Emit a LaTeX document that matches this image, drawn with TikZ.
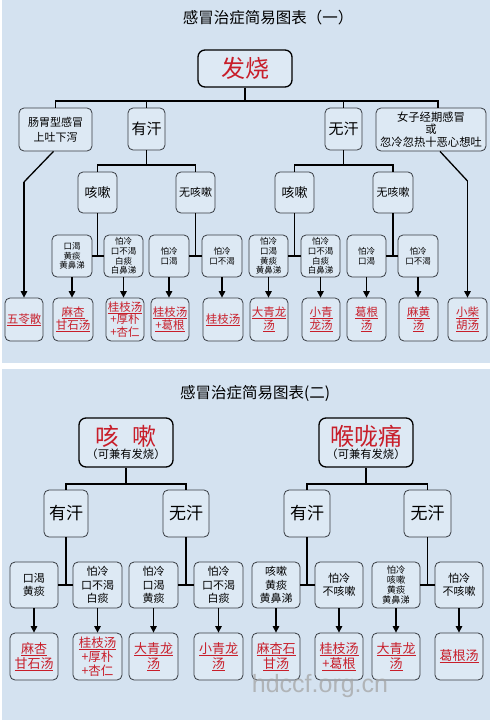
\documentclass[tikz,border=0pt]{standalone}
\usepackage{fontspec}
\setmainfont{Noto Sans CJK SC}
\newfontfamily\wmfont{Liberation Sans}
\usetikzlibrary{arrows.meta,calc}
\definecolor{bg}{RGB}{212,226,240}
\definecolor{boxfill}{RGB}{221,233,244}
\definecolor{boxline}{RGB}{55,60,66}
\definecolor{redtxt}{RGB}{200,30,42}
\definecolor{wmgray}{RGB}{165,165,165}
\newcommand\rul[1]{\setbox0\hbox{#1}\leavevmode\rlap{\raisebox{-2.4pt}{\color{redtxt}\rule{\wd0}{1pt}}}\box0}
\begin{document}
\begin{tikzpicture}[x=1pt,y=-1pt,
 box/.style={draw=boxline, fill=boxfill, rounded corners=5pt, line width=0.8pt, inner sep=0pt, align=center, text=black},
 bigbox/.style={box, draw=black, line width=1.3pt, rounded corners=7pt},
 res/.style={box, text=redtxt},
 wh/.style 2 args={minimum width=#1pt, minimum height=#2pt},
 fs/.style 2 args={font=\fontsize{#1}{#2}\selectfont},
 link/.style={line width=1.3pt, black},
 arr/.style={link, -{Triangle[length=6.5pt,width=6.5pt]}},
 ttl/.style={inner sep=0pt, text=black}
]
\useasboundingbox (0,0) rectangle (500,720);
\fill[white] (0,0) rectangle (500,720);
\fill[bg] (2,0) rectangle (490,363);
\fill[bg] (2,369) rectangle (490,720);

% ---------- Panel 1 ----------
\node[ttl, fs={15.5}{18}] (t1) at (268,18) {感冒治症简易图表（一）};
\node[bigbox, wh={94}{37}, fs={24}{28}, text=redtxt] (fs) at (245,68.5) {发烧};

\node[box, wh={73}{43}, fs={11}{15}] (cw) at (55.5,129.5) {肠胃型感冒\\上吐下泻};
\node[box, wh={37}{42}, fs={15}{18}] (yh1) at (146.5,129) {有汗};
\node[box, wh={37}{42}, fs={15}{18}] (wh1) at (343.5,129) {无汗};
\node[box, wh={110}{43}, fs={11.3}{12.5}] (nz) at (431,129.5) {女子经期感冒\\或\\忽冷忽热十恶心想吐};

\node[box, wh={39}{41}, fs={13}{15}] (ks1) at (97.5,192.5) {咳嗽};
\node[box, wh={39}{41}, fs={11}{13}] (wk1) at (195.5,192.5) {无咳嗽};
\node[box, wh={39}{41}, fs={13}{15}] (ks2) at (294.5,192.5) {咳嗽};
\node[box, wh={40}{41}, fs={11}{13}] (wk2) at (393,192.5) {无咳嗽};

\node[box, wh={40}{42}, fs={8.5}{9.8}] (s1) at (72,256) {口渴\\黄痰\\黄鼻涕};
\node[box, wh={39}{42}, fs={8.5}{9.8}] (s2) at (123.5,256) {怕冷\\口不渴\\白痰\\白鼻涕};
\node[box, wh={40}{42}, fs={8.5}{9.8}] (s3) at (169,256) {怕冷\\口渴};
\node[box, wh={40}{42}, fs={8.5}{9.8}] (s4) at (222,256) {怕冷\\口不渴};
\node[box, wh={39}{42}, fs={8.5}{9.8}] (s5) at (268.5,256) {怕冷\\口渴\\黄痰\\黄鼻涕};
\node[box, wh={39}{42}, fs={8.5}{9.8}] (s6) at (320.5,256) {怕冷\\口不渴\\白痰\\白鼻涕};
\node[box, wh={39}{42}, fs={8.5}{9.8}] (s7) at (366.5,256) {怕冷\\口渴};
\node[box, wh={40}{42}, fs={8.5}{9.8}] (s8) at (418,256) {怕冷\\口不渴};

\node[res, wh={38}{43}, fs={11.5}{13}] (r1) at (24,319.5) {\rul{五苓散}};
\node[res, wh={40}{43}, fs={11.5}{13}] (r2) at (73,319.5) {\rul{麻杏}\\\rul{甘石汤}};
\node[res, wh={38}{43}, fs={11.5}{12.6}] (r3) at (125,319.5) {\rul{桂枝汤}\\+厚朴\\+杏仁};
\node[res, wh={38}{43}, fs={11.5}{13}] (r4) at (170,319.5) {\rul{桂枝汤}\\\rul{+葛根}};
\node[res, wh={40}{43}, fs={11.5}{13}] (r5) at (223,319.5) {\rul{桂枝汤}};
\node[res, wh={38}{43}, fs={11.5}{13}] (r6) at (269,319.5) {\rul{大青龙}\\\rul{汤}};
\node[res, wh={38}{43}, fs={11.5}{13}] (r7) at (321,319.5) {\rul{小青}\\\rul{龙汤}};
\node[res, wh={39}{43}, fs={11.5}{13}] (r8) at (366.5,319.5) {\rul{葛根}\\\rul{汤}};
\node[res, wh={39}{43}, fs={11.5}{13}] (r9) at (418.5,319.5) {\rul{麻黄}\\\rul{汤}};
\node[res, wh={39}{43}, fs={11.5}{13}] (r10) at (467.5,319.5) {\rul{小柴}\\\rul{胡汤}};

\coordinate (bar1) at (0,101);
\coordinate (nzin) at (438,101);
\coordinate (bendL) at (24,182);
\coordinate (bendR) at (467.5,181);
\coordinate (bar2) at (0,165);

\draw[link] (fs.south) -- (fs.south |- bar1);
\draw[link] (cw.north) |- (nzin) -- (nzin |- nz.north);
\draw[link] (yh1.north) -- (yh1.north |- bar1);
\draw[link] (wh1.north) -- (wh1.north |- bar1);

\draw[link] (yh1.south) -- (yh1.south |- bar2);
\draw[link] (ks1.north) |- (wk1.north |- bar2) -- (wk1.north);
\draw[link] (wh1.south) -- (wh1.south |- bar2);
\draw[link] (ks2.north) |- (wk2.north |- bar2) -- (wk2.north);

\draw[link] (ks1.south) -- (ks1.south |- s1.east);
\draw[link] (s1.east) -- (s2.west);
\draw[link] (wk1.south) -- (wk1.south |- s3.east);
\draw[link] (s3.east) -- (s4.west);
\draw[link] (ks2.south) -- (ks2.south |- s5.east);
\draw[link] (s5.east) -- (s6.west);
\draw[link] (wk2.south) -- (wk2.south |- s7.east);
\draw[link] (s7.east) -- (s8.west);

\foreach \a/\b in {s1/r2,s2/r3,s3/r4,s4/r5,s5/r6,s6/r7,s7/r8,s8/r9}
  \draw[arr] (\a.south) -- (\a.south |- \b.north);

\draw[link] ($(cw.south)+(-2,0)$) -- (bendL);
\draw[arr] (bendL) -- (r1.north);
\draw[link] ($(nz.south)+(9,0)$) -- (bendR);
\draw[arr] (bendR) -- (r10.north);

% ---------- Panel 2 ----------
\node[ttl, fs={15.5}{18}] (t2) at (255,393) {感冒治症简易图表(二)};
\node[bigbox, wh={94}{49}] (kk) at (126,442.5) {{\fontsize{24}{26}\selectfont\color{redtxt}咳\hspace{14pt}嗽}\\[1pt]{\fontsize{11.3}{13}\selectfont （可兼有发烧）}};
\node[bigbox, wh={94}{49}] (hl) at (366,442.5) {{\fontsize{24}{26}\selectfont\color{redtxt}喉咙痛}\\[1pt]{\fontsize{11.3}{13}\selectfont （可兼有发烧）}};

\node[box, wh={44}{47}, fs={17}{20}] (yh2) at (66,513.5) {有汗};
\node[box, wh={46}{47}, fs={17}{20}] (wh2) at (186,513.5) {无汗};
\node[box, wh={46}{47}, fs={17}{20}] (yh3) at (307,513.5) {有汗};
\node[box, wh={47}{47}, fs={17}{20}] (wh3) at (427.5,513.5) {无汗};

\node[box, wh={48}{46}, fs={11}{13.5}] (q1) at (34,585) {口渴\\黄痰};
\node[box, wh={49}{46}, fs={11}{13.5}] (q2) at (97.5,585) {怕冷\\口不渴\\白痰};
\node[box, wh={49}{46}, fs={11}{13.5}] (q3) at (153.5,585) {怕冷\\口渴\\黄痰};
\node[box, wh={49}{46}, fs={11}{13.5}] (q4) at (218.5,585) {怕冷\\口不渴\\白痰};
\node[box, wh={48}{46}, fs={11}{13.5}] (q5) at (276,585) {咳嗽\\黄痰\\黄鼻涕};
\node[box, wh={48}{46}, fs={11}{13.5}] (q6) at (339,585) {怕冷\\不咳嗽};
\node[box, wh={48}{46}, fs={9.2}{10.3}] (q7) at (396,585) {怕冷\\咳嗽\\黄痰\\黄鼻涕};
\node[box, wh={48}{46}, fs={11}{13.5}] (q8) at (459,585) {怕冷\\不咳嗽};

\node[res, wh={48}{47}, fs={13}{15}] (u1) at (34,656.5) {\rul{麻杏}\\\rul{甘石汤}};
\node[res, wh={49}{47}, fs={12.5}{14}] (u2) at (97.5,656.5) {\rul{桂枝汤}\\+厚朴\\+杏仁};
\node[res, wh={49}{47}, fs={13}{15}] (u3) at (153.5,656.5) {\rul{大青龙}\\\rul{汤}};
\node[res, wh={49}{47}, fs={13}{15}] (u4) at (218.5,656.5) {\rul{小青龙}\\\rul{汤}};
\node[res, wh={48}{47}, fs={13}{15}] (u5) at (276,656.5) {\rul{麻杏石}\\\rul{甘汤}};
\node[res, wh={48}{47}, fs={13}{15}] (u6) at (339,656.5) {\rul{桂枝汤}\\\rul{+葛根}};
\node[res, wh={48}{47}, fs={13}{15}] (u7) at (396,656.5) {\rul{大青龙}\\\rul{汤}};
\node[res, wh={48}{47}, fs={13}{15}] (u8) at (459,656.5) {\rul{葛根汤}};

\coordinate (bar3) at (0,484);
\draw[link] (kk.south) -- (kk.south |- bar3);
\draw[link] (yh2.north) |- (wh2.north |- bar3) -- (wh2.north);
\draw[link] (hl.south) -- (hl.south |- bar3);
\draw[link] (yh3.north) |- (wh3.north |- bar3) -- (wh3.north);

\draw[link] (yh2.south) -- (yh2.south |- q1.east);
\draw[link] (q1.east) -- (q2.west);
\draw[link] (wh2.south) -- (wh2.south |- q3.east);
\draw[link] (q3.east) -- (q4.west);
\draw[link] (yh3.south) -- (yh3.south |- q5.east);
\draw[link] (q5.east) -- (q6.west);
\draw[link] (wh3.south) -- (wh3.south |- q7.east);
\draw[link] (q7.east) -- (q8.west);

\foreach \a/\b in {q1/u1,q2/u2,q3/u3,q4/u4,q5/u5,q6/u6,q7/u7,q8/u8}
  \draw[arr] (\a.south) -- (\a.south |- \b.north);

\node[inner sep=0pt, text=wmgray, opacity=0.75, font=\wmfont\fontsize{25}{28}\selectfont] (wm) at (320,686) {hdccf.org.cn};
\end{tikzpicture}
\end{document}
